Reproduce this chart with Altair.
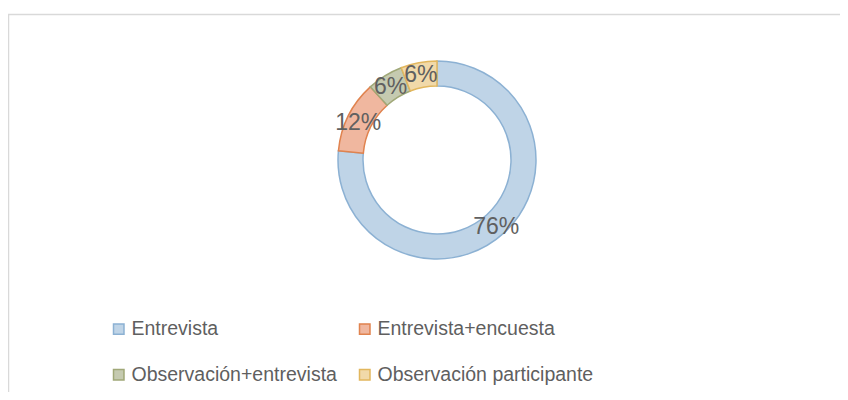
import altair as alt
import pandas as pd

categories = ["Entrevista", "Entrevista+encuesta", "Observación+entrevista", "Observación participante"]
counts = [13, 2, 1, 1]
labels = ["76%", "12%", "6%", "6%"]
fills = ["#bfd4e7", "#f0b79f", "#c5cab0", "#f1d9a9"]
strokes = ["#8cb1d3", "#e0834f", "#a0a878", "#e2b75e"]

df = pd.DataFrame({
    "metodo": categories,
    "n": counts,
    "label": labels,
    "orden": list(range(len(categories))),
})

CX, CY = 429, 152  # center in view coordinates (page minus 8px margin)
FONT = "Liberation Sans"

frame = alt.Chart(pd.DataFrame({"a": [0]})).mark_rect(
    fill="white", stroke="#d9d9d9", strokeWidth=1.5
).encode(
    x=alt.value(0.5), x2=alt.value(900), y=alt.value(6.5), y2=alt.value(420)
)

base = alt.Chart(df).encode(
    theta=alt.Theta("n:Q", stack=True),
    order=alt.Order("orden:Q"),
)

arcs = base.mark_arc(outerRadius=99, innerRadius=74, strokeWidth=1.5).encode(
    x=alt.value(CX),
    y=alt.value(CY),
    fill=alt.Fill(
        "metodo:N",
        scale=alt.Scale(domain=categories, range=fills),
        legend=alt.Legend(
            title=None,
            orient="none",
            direction="horizontal",
            legendX=101,
            legendY=311,
            columns=2,
            symbolType="square",
            symbolSize=110,
            symbolStrokeWidth=1.5,
            labelFont=FONT,
            labelFontSize=19.5,
            labelColor="#5f5f5f",
            labelOffset=3,
            labelLimit=400,
            rowPadding=25,
            columnPadding=18,
        ),
    ),
    stroke=alt.Stroke(
        "metodo:N",
        scale=alt.Scale(domain=categories, range=strokes),
        legend=None,
    ),
)

text = base.mark_text(radius=88, font=FONT, fontSize=23, color="#606060").encode(
    x=alt.value(CX),
    y=alt.value(CY + 2),
    text="label:N",
)

chart = alt.layer(frame, arcs, text).properties(
    width=832, height=384, padding=0, autosize=alt.AutoSizeParams(type="none")
).configure_view(stroke=None).resolve_scale(theta="shared")

chart.save("out.html", embed_options={"renderer": "svg", "actions": False})
